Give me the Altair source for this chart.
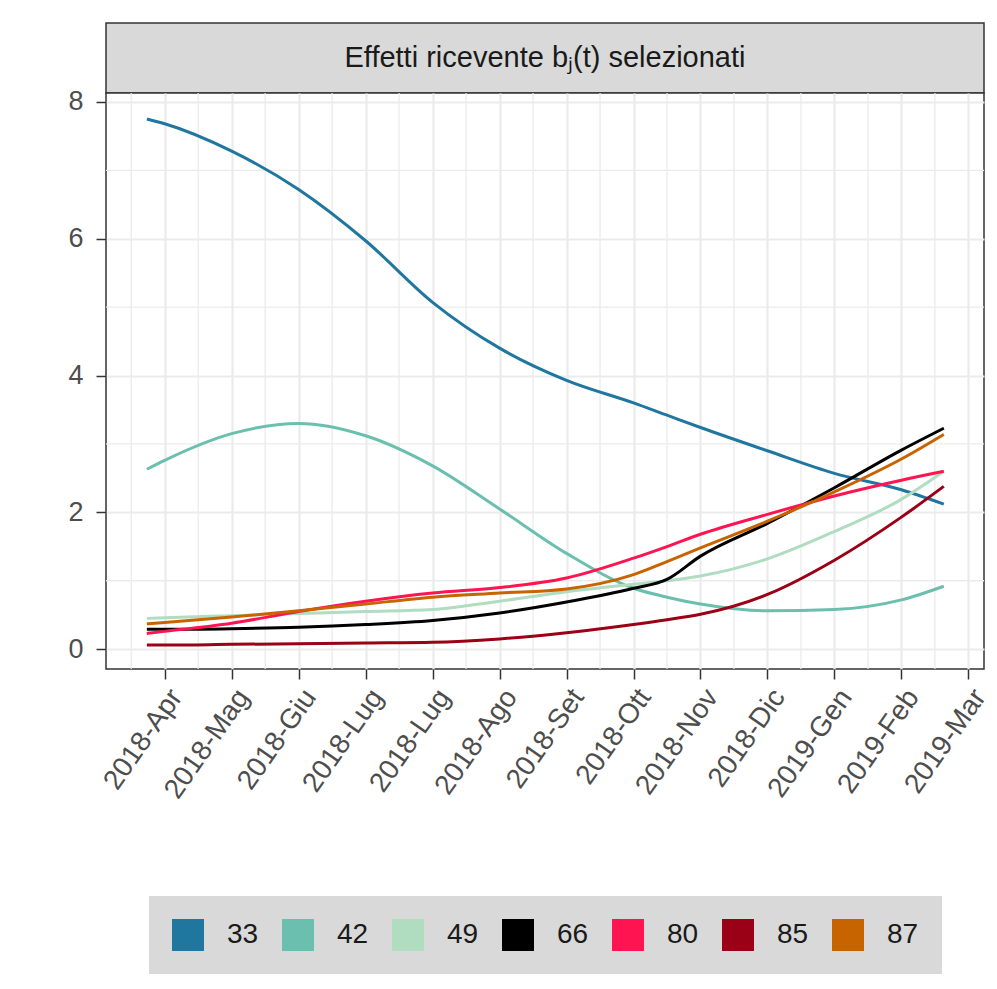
import altair as alt
import pandas as pd

# ---- data ----
title_text = "Effetti ricevente bⱼ(t) selezionati"
series = ["33", "42", "49", "66", "80", "85", "87"]
colors = ["#1F77A0", "#6ABFAE", "#B0DCC0", "#000000", "#FF1452", "#9A0016", "#C86400"]

days = [-8, 0, 30, 60, 90, 120, 150, 180, 210, 225, 240, 270, 300, 330, 349]
s33 = [7.75, 7.68, 7.28, 6.72, 5.97, 5.07, 4.40, 3.93, 3.60, 3.42, 3.24, 2.90, 2.57, 2.33, 2.12]
s42 = [2.63, 2.76, 3.15, 3.30, 3.12, 2.68, 2.05, 1.40, 0.89, 0.76, 0.66, 0.56, 0.58, 0.72, 0.92]
s49 = [0.45, 0.46, 0.49, 0.52, 0.55, 0.58, 0.70, 0.84, 0.95, 1.00, 1.07, 1.32, 1.72, 2.19, 2.60]
s66 = [0.29, 0.29, 0.30, 0.32, 0.36, 0.42, 0.53, 0.69, 0.89, 1.02, 1.36, 1.84, 2.36, 2.91, 3.23]
s80 = [0.23, 0.26, 0.38, 0.55, 0.70, 0.82, 0.90, 1.04, 1.33, 1.50, 1.68, 1.97, 2.24, 2.47, 2.60]
s85 = [0.06, 0.06, 0.07, 0.08, 0.09, 0.10, 0.15, 0.24, 0.36, 0.43, 0.51, 0.80, 1.30, 1.93, 2.38]
s87 = [0.37, 0.39, 0.47, 0.56, 0.66, 0.76, 0.82, 0.88, 1.09, 1.28, 1.48, 1.87, 2.30, 2.78, 3.14]

tick_days = [0, 30, 60, 90, 120, 150, 180, 210, 240, 270, 300, 330, 360]
tick_labels = ["2018-Apr", "2018-Mag", "2018-Giu", "2018-Lug", "2018-Lug", "2018-Ago",
               "2018-Set", "2018-Ott", "2018-Nov", "2018-Dic", "2019-Gen", "2019-Feb", "2019-Mar"]
y_ticks = [0, 2, 4, 6, 8]
minor_x = [-15, 15, 45, 75, 105, 135, 165, 195, 225, 255, 285, 315, 345]
minor_y = [1, 3, 5, 7]

# ---- build table ----
values = [s33, s42, s49, s66, s80, s85, s87]
rows = []
for name, vals in zip(series, values):
    for d, v in zip(days, vals):
        rows.append({"day": d, "value": v, "serie": name})
df = pd.DataFrame(rows)

W, H = 878, 576
FONT = "Liberation Sans"
xscale = alt.Scale(domain=[-26.3, 367], nice=False, zero=False)
yscale = alt.Scale(domain=[-0.29, 8.13], nice=False, zero=False)
cscale = alt.Scale(domain=series, range=colors)

label_js = "[" + ",".join("'" + l + "'" for l in tick_labels) + "][round(datum.value/30)]"

xaxis = alt.Axis(
    values=tick_days, labelExpr=label_js, title=None, labelAngle=-55,
    labelAlign="right", labelBaseline="top", labelOverlap=False, grid=True,
    gridColor="#EBEBEB", gridWidth=2.2, tickSize=10, tickWidth=1.5,
    tickColor="#333333", domain=False, labelFontSize=28, labelColor="#4D4D4D",
    labelFont=FONT, labelPadding=5)
yaxis = alt.Axis(
    values=y_ticks, title=None, grid=True, gridColor="#EBEBEB", gridWidth=2.2,
    tickSize=10, tickWidth=1.5, tickColor="#333333", domain=False,
    labelFontSize=27, labelColor="#4D4D4D", labelFont=FONT, labelPadding=13)

legend = alt.Legend(title=None, orient="none", legendX=43, legendY=873,
                    direction="horizontal", columns=7,
                    symbolType="square", symbolSize=1024, symbolStrokeWidth=0,
                    fillColor="#D9D9D9", padding=23, labelFontSize=28, labelFont=FONT,
                    labelColor="#1A1A1A", labelOffset=23, columnPadding=23)

# invisible filled squares that carry the legend (filled keys as in the original)
keys = alt.Chart(df).mark_square(opacity=0).encode(
    x=alt.X("day:Q", scale=xscale, axis=xaxis),
    y=alt.Y("value:Q", scale=yscale, axis=yaxis),
    color=alt.Color("serie:N", scale=cscale, legend=legend),
)

grid_v = alt.Chart(pd.DataFrame({"gx": minor_x})).mark_rule(
    color="#EBEBEB", strokeWidth=1.3).encode(x=alt.X("gx:Q", scale=xscale, axis=xaxis))
grid_h = alt.Chart(pd.DataFrame({"gy": minor_y})).mark_rule(
    color="#EBEBEB", strokeWidth=1.3).encode(y=alt.Y("gy:Q", scale=yscale, axis=yaxis))

lines = alt.Chart(df).mark_line(strokeWidth=3, interpolate="monotone").encode(
    x=alt.X("day:Q", scale=xscale, axis=xaxis),
    y=alt.Y("value:Q", scale=yscale, axis=yaxis),
    color=alt.Color("serie:N", scale=cscale, legend=legend),
    detail="serie:N",
)

main = alt.layer(keys, grid_v, grid_h, lines).properties(
    width=W, height=H,
    view=alt.ViewBackground(fill="white", stroke="#333333", strokeWidth=1.5))

strip = alt.Chart(pd.DataFrame({"t": [title_text]})).mark_text(
    fontSize=29, font=FONT, color="#1A1A1A").encode(
    text="t:N", x=alt.value(W / 2), y=alt.value(35)).properties(
    width=W, height=70,
    view=alt.ViewBackground(fill="#D9D9D9", stroke="#333333", strokeWidth=1.5))

chart = alt.vconcat(strip, main, spacing=0, bounds="flush").properties(
    padding={"left": 59, "top": 14, "right": -6, "bottom": 0})

chart.save("out.html", embed_options={"renderer": "svg", "actions": False})
